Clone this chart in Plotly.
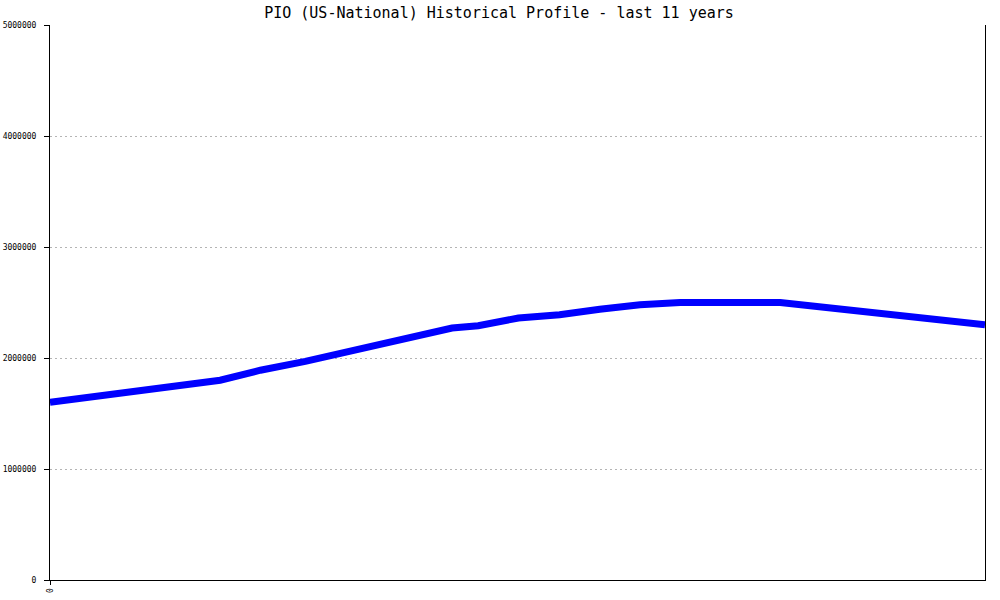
import plotly.graph_objects as go

# Data (x in axis units 0..10, y = count)
x_pos = [0, 1.82, 2.25, 2.73, 4.30, 4.58, 5.01, 5.45, 5.88, 6.31, 6.74, 7.81, 10]
values = [1600000, 1800000, 1890000, 1970000, 2270000, 2290000, 2360000,
          2390000, 2440000, 2480000, 2500000, 2500000, 2300000]
y_ticks = [0, 1000000, 2000000, 3000000, 4000000, 5000000]
x_ticks = [0]
title = "PIO (US-National) Historical Profile - last 11 years"

fig = go.Figure()
fig.add_trace(go.Scatter(x=x_pos, y=values, mode="lines",
                         line=dict(color="#0000ff", width=7),
                         hoverinfo="skip", showlegend=False))

fig.update_layout(
    width=1000, height=600,
    margin=dict(l=50, r=15, t=25, b=20, autoexpand=False),
    paper_bgcolor="white", plot_bgcolor="white",
    title=dict(text=title, x=0.499, xanchor="center", y=0.978, yanchor="middle",
               yref="container", automargin=False,
               font=dict(family="DejaVu Sans Mono", size=15, color="black")),
    font=dict(family="DejaVu Sans Mono", color="black"),
)
fig.update_xaxes(range=[0, 10], tickvals=x_ticks, ticktext=[str(t) for t in x_ticks],
                 tickangle=-90, showgrid=False, zeroline=False, automargin=False,
                 showline=True, linecolor="black", linewidth=1,
                 ticks="outside", ticklen=4, tickcolor="black",
                 tickfont=dict(size=8, family="DejaVu Sans Mono"))
fig.update_yaxes(range=[0, 5000000], tickvals=y_ticks, ticktext=[str(t) for t in y_ticks],
                 showgrid=True, gridcolor="#b4b4b4", griddash="2px,3px", gridwidth=1,
                 zeroline=False, showline=True, linecolor="black", linewidth=1,
                 mirror=True, automargin=False,
                 ticks="outside", ticklen=5, tickcolor="black", ticklabelstandoff=6,
                 tickfont=dict(size=8, family="DejaVu Sans Mono"))

# remove the default 8px page margin so the 1000x600 figure fills the window
fig.write_html("out.html",
               config={"displayModeBar": False, "staticPlot": True},
               post_script="document.body.style.margin='0';document.body.style.overflow='hidden';")
